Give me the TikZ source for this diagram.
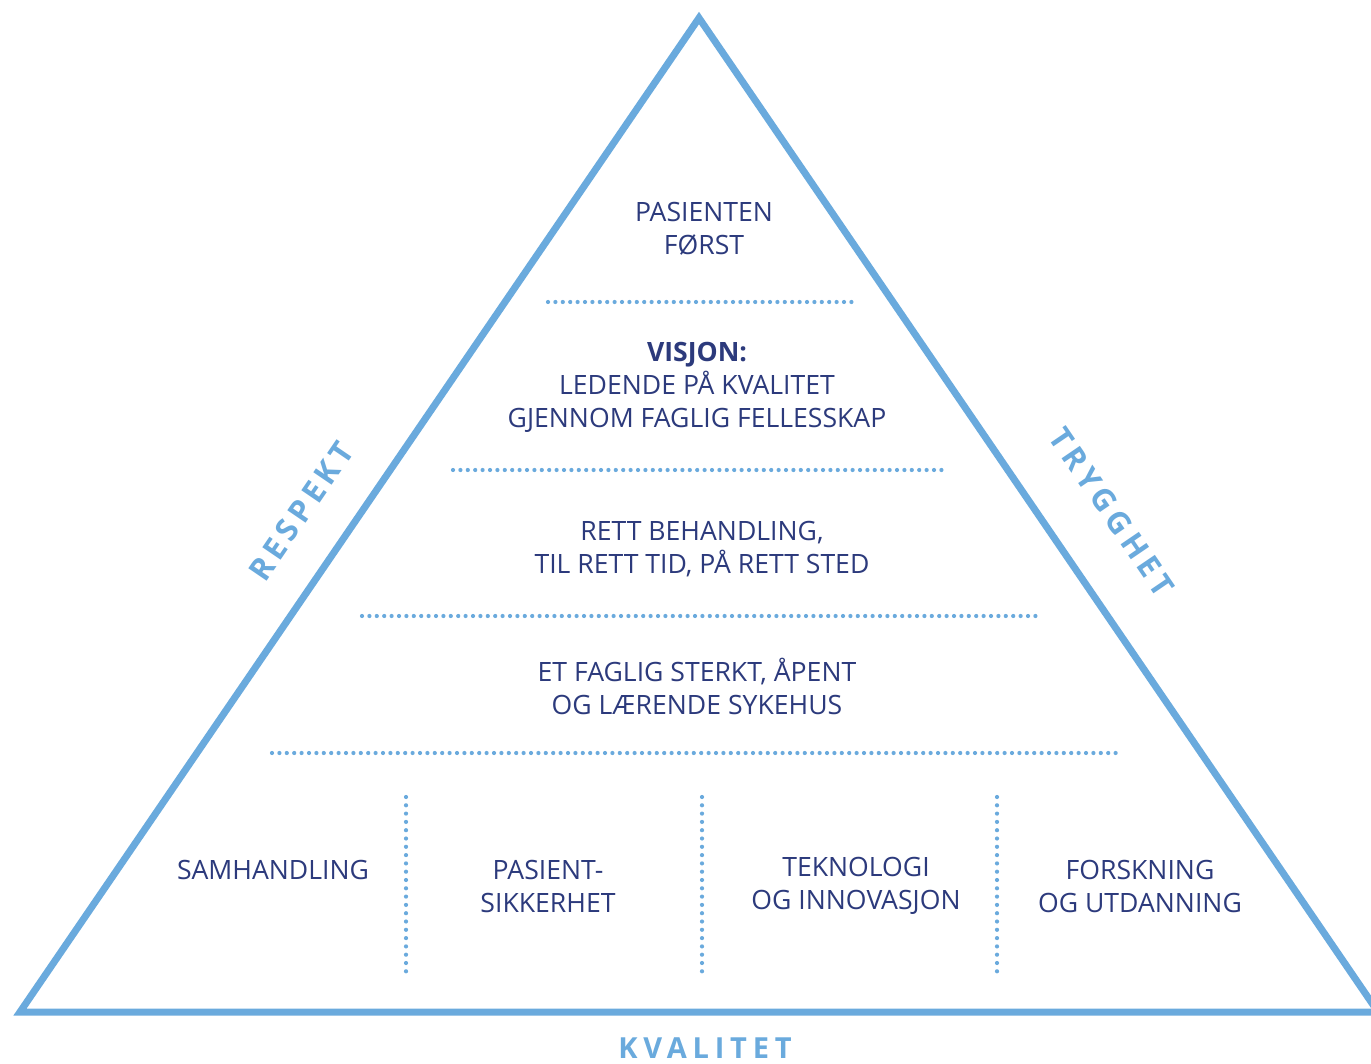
\documentclass[tikz,border=0pt]{standalone}
\usepackage{fontspec}
\setmainfont{Open Sans}
\newfontfamily\spacedfont[LetterSpace=16]{Open Sans}
\newfontfamily\basefont[LetterSpace=20]{Open Sans}
\definecolor{frameblue}{HTML}{6AAADD}
\definecolor{textnavy}{HTML}{2C3A7C}
\tikzset{
  frame/.style={draw=frameblue, line width=7pt, line join=miter},
  dotrule/.style={draw=frameblue, line width=4.2pt, line cap=round, dash pattern=on 0pt off 7.4pt},
  dotcol/.style={draw=frameblue, line width=4.2pt, line cap=round, dash pattern=on 0pt off 8.3pt},
  body/.style={text=textnavy, align=center, font=\fontsize{26.6}{33}\selectfont, inner sep=0pt},
  side/.style={text=frameblue, font=\spacedfont\bfseries\fontsize{31}{33}\selectfont, inner sep=0pt},
  basevalue/.style={text=frameblue, font=\basefont\bfseries\fontsize{29}{33}\selectfont, inner sep=0pt}
}
\begin{document}
\begin{tikzpicture}[x=1pt,y=-1pt]
\useasboundingbox (0,0) rectangle (1371,1064);
\fill[white] (0,0) rectangle (1371,1064);

% the pyramid outline, its right corner running past the edge
\begin{scope}
\clip (0,0) rectangle (1371,1064);
\coordinate (apex) at (699,18);
\coordinate (left) at (20,1012);
\coordinate (right) at (1378,1012);
\draw[frame] (apex) -- (left) -- (right) -- cycle;
\end{scope}

% horizontal dotted dividers between the levels
\coordinate (r1a) at (548,302);  \coordinate (r1b) at (856,302);
\coordinate (r2a) at (453,470);  \coordinate (r2b) at (945,470);
\coordinate (r3a) at (362,616);  \coordinate (r3b) at (1036,616);
\coordinate (r4a) at (272,753);  \coordinate (r4b) at (1121,753);
\draw[dotrule] (r1a) -- (r1b);
\draw[dotrule] (r2a) -- (r2b);
\draw[dotrule] (r3a) -- (r3b);
\draw[dotrule] (r4a) -- (r4b);

% vertical dotted dividers in the base
\coordinate (c1a) at (406,797); \coordinate (c1b) at (406,975);
\coordinate (c2a) at (702,797); \coordinate (c2b) at (702,975);
\coordinate (c3a) at (997,797); \coordinate (c3b) at (997,975);
\draw[dotcol] (c1a) -- (c1b);
\draw[dotcol] (c2a) -- (c2b);
\draw[dotcol] (c3a) -- (c3b);

% level texts
\node[body] (top) at (704,229) {PASIENTEN\\FØRST};
\node[body] (vision) at (697,387) {\textbf{VISJON:}\\LEDENDE PÅ KVALITET\\GJENNOM FAGLIG FELLESSKAP};
\node[body] (care) at (702,549) {RETT BEHANDLING,\\TIL RETT TID, PÅ RETT STED};
\node[body] (hospital) at (697,686) {ET FAGLIG STERKT, ÅPENT\\OG LÆRENDE SYKEHUS};

% base texts
\node[body] (samh) at (273,870) {SAMHANDLING};
\node[body] (pas) at (548,886) {PASIENT-\\SIKKERHET};
\node[body] (tek) at (856,886) {TEKNOLOGI\\OG INNOVASJON};
\node[body] (forsk) at (1140,886) {FORSKNING\\OG UTDANNING};

% values along the sides
\node[side, rotate=55.7] (respekt) at (301,511) {RESPEKT};
\node[side, rotate=-55.7] (trygghet) at (1112,512) {TRYGGHET};
\node[basevalue] (kvalitet) at (705,1048) {KVALITET};
\end{tikzpicture}
\end{document}
